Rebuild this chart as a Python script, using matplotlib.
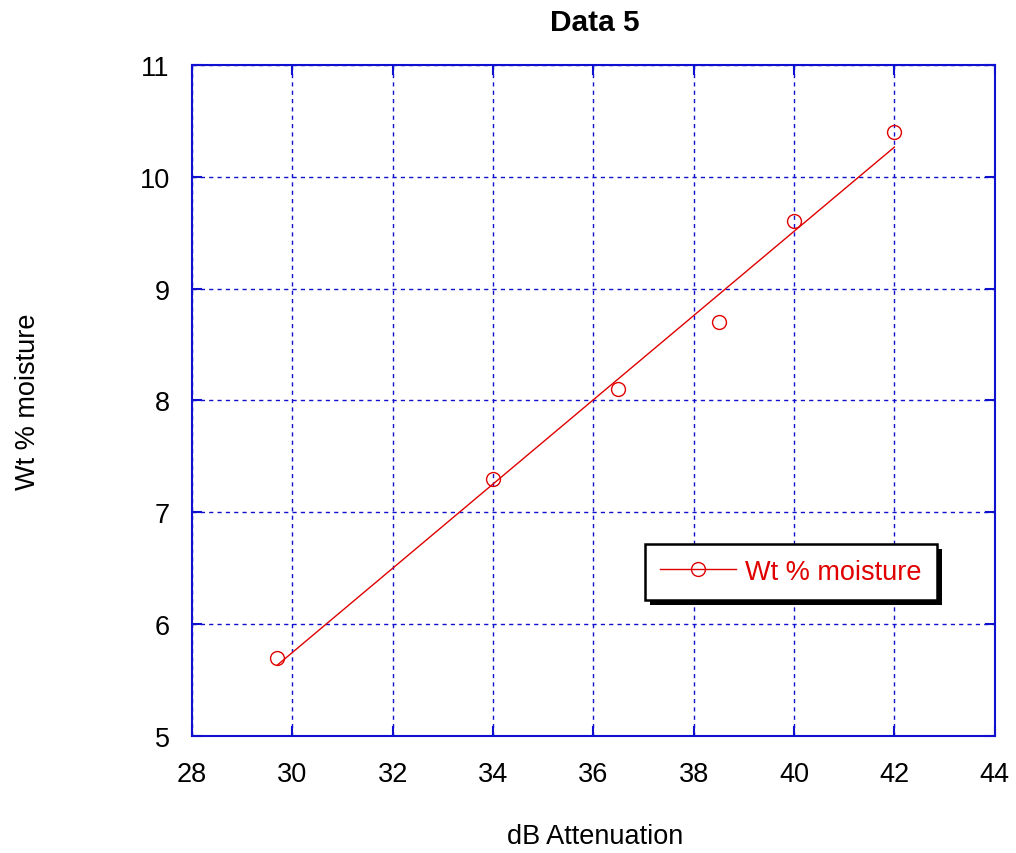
import numpy as np
import matplotlib
matplotlib.use("Agg")
import matplotlib.pyplot as plt
from matplotlib.lines import Line2D
from matplotlib.patches import Rectangle

plt.rcParams['font.family'] = ['Liberation Sans', 'DejaVu Sans']

x_vals = [29.7, 34.0, 36.5, 38.5, 40.0, 42.0]
y_vals = [5.7, 7.3, 8.1, 8.7, 9.6, 10.4]
series_name = "Wt % moisture"
x_ticks = [28, 30, 32, 34, 36, 38, 40, 42, 44]
y_ticks = [5, 6, 7, 8, 9, 10, 11]

fig = plt.figure(figsize=(10.16, 8.54), dpi=100)
ax = fig.add_axes([0.189, 0.137, 0.790, 0.786])

blue = '#1010d0'
red = '#e00000'

ax.set_xlim(28, 44)
ax.set_ylim(5, 11)
ax.set_xticks(x_ticks)
ax.set_yticks(y_ticks)
ax.grid(True, color=blue, linestyle=(0, (3, 3)), linewidth=1)
for s in ax.spines.values():
    s.set_color(blue)
    s.set_linewidth(1.5)
ax.tick_params(direction='in', top=True, right=True, color=blue, length=7,
               width=1.5, labelsize=19.5)
ax.tick_params(axis='x', pad=18)
ax.tick_params(axis='y', pad=16)

slope, intercept = np.polyfit(x_vals, y_vals, 1)
xf = np.array([min(x_vals), max(x_vals)])
ax.plot(xf, slope * xf + intercept, color=red, linewidth=1)
ax.plot(x_vals, y_vals, linestyle='none', marker='o', markersize=10,
        markerfacecolor='none', markeredgecolor=red, markeredgewidth=1)

handle = Line2D([], [], color=red, linewidth=1, marker='o', markersize=10,
                markerfacecolor='none', markeredgecolor=red)
leg = ax.legend([handle], [series_name], loc='upper left',
                bbox_to_anchor=(645 / 1016, 1 - 545 / 854),
                bbox_transform=fig.transFigure, borderaxespad=0,
                fontsize=19.5, fancybox=False, framealpha=1,
                edgecolor='black', handlelength=2.8, handletextpad=0.35,
                borderpad=0.55)
leg.get_frame().set_linewidth(1.8)
leg.set_zorder(10)
for t in leg.get_texts():
    t.set_color(red)

fig.text(595 / 1016, 1 - 23 / 854, "Data 5", fontsize=21.5, fontweight='bold',
         ha='center', va='center')
fig.text(595 / 1016, 1 - 837 / 854, "dB Attenuation", fontsize=19.5,
         ha='center', va='center')
fig.text(28 / 1016, 1 - 402 / 854, "Wt % moisture", fontsize=19.5,
         ha='center', va='center', rotation=90)

# drop shadow for the legend box
fig.canvas.draw()
bb = leg.get_frame().get_window_extent()
off = 5
shadow = Rectangle((bb.x0 + off, bb.y0 - off), bb.width, bb.height,
                   transform=None, facecolor='black', edgecolor='none',
                   zorder=9, clip_on=False)
ax.add_artist(shadow)

fig.savefig("out.png", dpi=100)
